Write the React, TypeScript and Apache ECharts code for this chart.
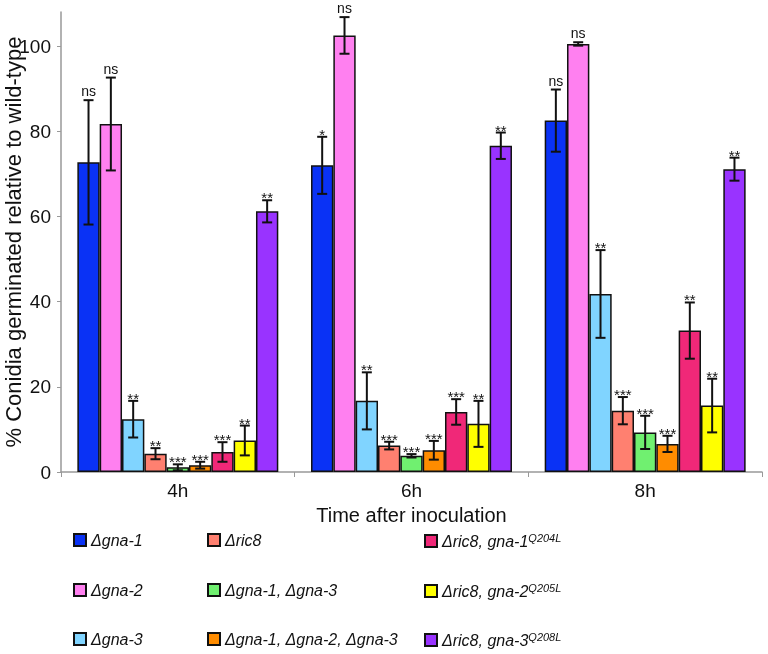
import React, { useEffect, useRef } from "react";
import * as echarts from "echarts";

const categories = ["4h", "6h", "8h"];
const strains = [
  "Δgna-1",
  "Δgna-2",
  "Δgna-3",
  "Δric8",
  "Δgna-1, Δgna-3",
  "Δgna-1, Δgna-2, Δgna-3",
  "Δric8, gna-1",
  "Δric8, gna-2",
  "Δric8, gna-3",
];
const superscripts = ["", "", "", "", "", "", "Q204L", "Q205L", "Q208L"];
const colors = ["#0a32f5", "#ff80f0", "#80d4ff", "#ff8070", "#70f070", "#ff8c00", "#f02878", "#ffff00", "#9933ff"];

// values per strain: [4h, 6h, 8h]
const values = [
  [72.7, 72.0, 82.5],
  [81.7, 102.5, 100.5],
  [12.4, 16.7, 41.8],
  [4.3, 6.2, 14.4],
  [1.1, 3.8, 9.3],
  [1.6, 5.1, 6.6],
  [4.7, 14.1, 33.2],
  [7.4, 11.3, 15.6],
  [61.2, 76.6, 71.1],
];
const errors = [
  [14.6, 6.7, 7.3],
  [10.9, 4.3, 0.4],
  [4.3, 6.7, 10.3],
  [1.3, 0.9, 3.2],
  [0.7, 0.4, 3.9],
  [0.8, 2.2, 1.9],
  [2.3, 3.0, 6.6],
  [3.5, 5.4, 6.3],
  [2.6, 3.1, 2.7],
];
const significance = [
  ["ns", "*", "ns"],
  ["ns", "ns", "ns"],
  ["**", "**", "**"],
  ["**", "***", "***"],
  ["***", "***", "***"],
  ["***", "***", "***"],
  ["***", "***", "**"],
  ["**", "**", "**"],
  ["**", "**", "**"],
];
const yTicks = [0, 20, 40, 60, 80, 100];

const FONT = "'Liberation Sans', Arial, sans-serif";
const CAT_GAP = 0.14;
const legendCols = [73, 207, 424];
const legendRows = [541, 591, 640];

export default function App() {
  const ref = useRef<HTMLDivElement>(null);
  useEffect(() => {
    if (!ref.current) return;
    const chart = echarts.init(ref.current, undefined, { renderer: "svg" });
    const nS = strains.length;

    const barSeries = strains.map((name, i) => ({
      name,
      type: "bar",
      data: values[i],
      barGap: "0%",
      barCategoryGap: CAT_GAP * 100 + "%",
      itemStyle: { color: colors[i], borderColor: "#111", borderWidth: 1.5 },
    }));

    const errData: any[] = [];
    strains.forEach((_, i) => {
      categories.forEach((_c, j) => {
        errData.push([j, values[i][j], errors[i][j], i, significance[i][j]]);
      });
    });

    const errSeries = {
      type: "custom",
      name: "errors",
      data: errData,
      z: 10,
      renderItem: (params: any, api: any) => {
        const cat = api.value(0);
        const v = api.value(1);
        const e = api.value(2);
        const si = api.value(3);
        const label = errData[params.dataIndex][4];
        const band = api.size([1, 0])[0];
        const bw = (band * (1 - CAT_GAP)) / nS;
        const x = api.coord([cat, 0])[0] + (si - (nS - 1) / 2) * bw;
        const yT = api.coord([cat, v + e])[1];
        const yB = api.coord([cat, Math.max(0, v - e)])[1];
        const cap = 5;
        const st = { stroke: "#111", lineWidth: 2 };
        const isNs = label === "ns";
        return {
          type: "group",
          children: [
            { type: "line", shape: { x1: x, y1: yT, x2: x, y2: yB }, style: st },
            { type: "line", shape: { x1: x - cap, y1: yT, x2: x + cap, y2: yT }, style: st },
            { type: "line", shape: { x1: x - cap, y1: yB, x2: x + cap, y2: yB }, style: st },
            {
              type: "text",
              x,
              y: isNs ? yT - 2 : yT + 5,
              style: {
                text: label,
                fill: "#111",
                font: (isNs ? "14px " : "15px ") + FONT,
                align: "center",
                verticalAlign: "bottom",
              },
            },
          ],
        };
      },
    };

    const legendFormatter = (name: string) => {
      const idx = strains.indexOf(name);
      const sup = superscripts[idx];
      return sup ? `{i|${name}}{s|${sup}}` : `{i|${name}}`;
    };
    const legendText = {
      fontFamily: FONT,
      rich: {
        i: { fontStyle: "italic", fontSize: 16, color: "#111", fontFamily: FONT, lineHeight: 18 },
        s: { fontStyle: "italic", fontSize: 11, color: "#111", fontFamily: FONT, verticalAlign: "top", lineHeight: 18, padding: [0, 0, 8, 0] },
      },
    };
    const legends = strains.map((name, i) => ({
      data: [name],
      left: legendCols[Math.floor(i / 3)],
      top: legendRows[i % 3] - 9,
      padding: 0,
      itemWidth: 12,
      itemHeight: 12,
      itemGap: 6,
      icon: "rect",
      selectedMode: false,
      itemStyle: { borderColor: "#111", borderWidth: 2 },
      formatter: legendFormatter,
      textStyle: legendText,
    }));

    chart.setOption({
      animation: false,
      textStyle: { fontFamily: FONT },
      grid: { left: 61, right: 6, top: 12, bottom: 182, containLabel: false, outerBoundsMode: "none" },
      legend: legends,
      xAxis: {
        type: "category",
        data: categories,
        name: "Time after inoculation",
        nameLocation: "middle",
        nameGap: 32,
        nameTextStyle: { fontSize: 20, color: "#111", fontFamily: FONT },
        axisLine: { lineStyle: { color: "#999", width: 1.5 } },
        axisTick: { show: true, length: 5, lineStyle: { color: "#999" } },
        axisLabel: { fontSize: 19, color: "#111", margin: 9, fontFamily: FONT },
      },
      yAxis: {
        type: "value",
        min: 0,
        max: 108,
        interval: 20,
        name: "% Conidia germinated relative to wild-type",
        nameLocation: "middle",
        nameGap: 37,
        nameMoveOverlap: false,
        nameTextStyle: { fontSize: 22, color: "#111", fontFamily: FONT },
        axisLine: { show: true, lineStyle: { color: "#999", width: 1.5 } },
        axisTick: { show: true, length: 4, lineStyle: { color: "#999" } },
        splitLine: { show: false },
        axisLabel: {
          fontSize: 19,
          color: "#111",
          margin: 10,
          fontFamily: FONT,
          showMaxLabel: false,
          formatter: (v: number) => (yTicks.includes(v) ? String(v) : ""),
        },
      },
      series: [...barSeries, errSeries],
    });
    return () => chart.dispose();
  }, []);
  return <div ref={ref} style={{ position: "fixed", left: 0, top: 0, width: 768, height: 654 }} />;
}
